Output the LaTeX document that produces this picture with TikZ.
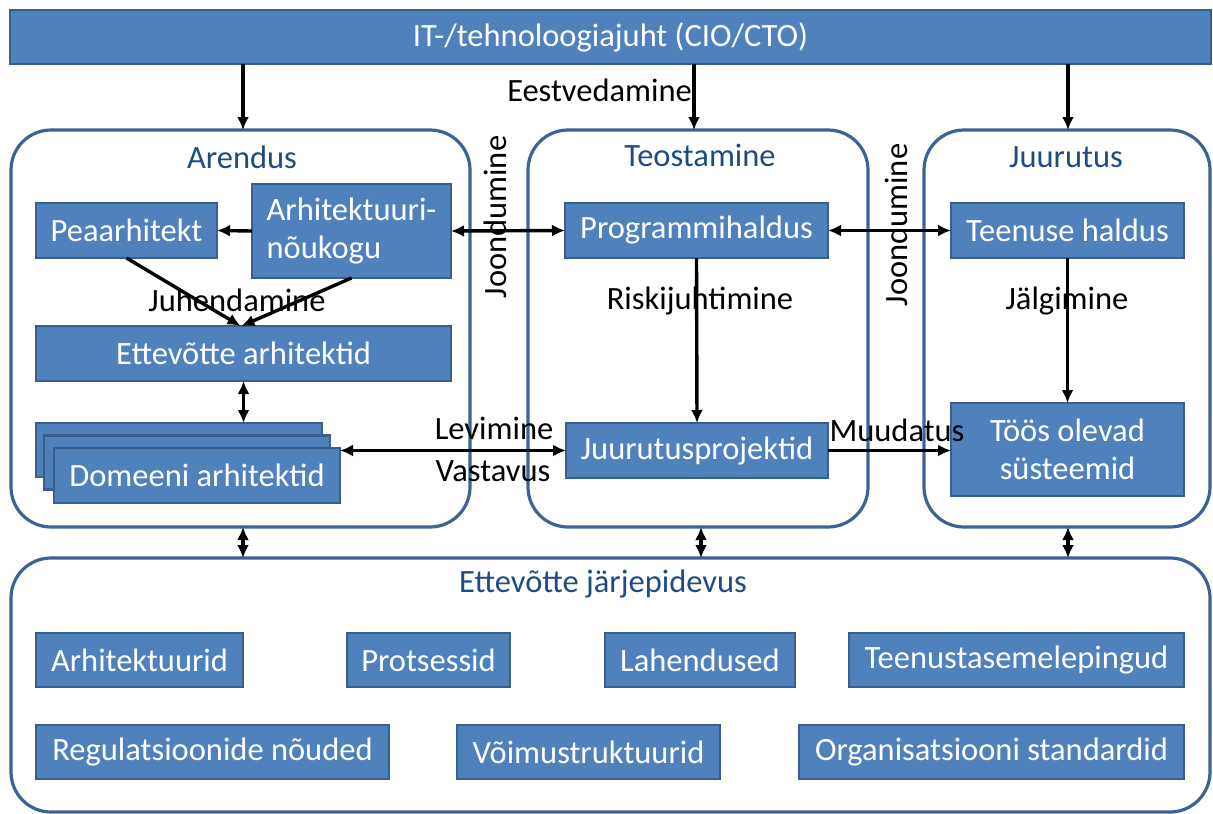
\documentclass[tikz,border=0pt]{standalone}
\usepackage{fontspec}
\setmainfont{Carlito}
\usetikzlibrary{arrows.meta}
\definecolor{boxfill}{HTML}{4F81BD}
\definecolor{boxline}{HTML}{3A5F8F}
\definecolor{frameline}{HTML}{3D6296}
\definecolor{titletext}{HTML}{1F4A82}
\begin{document}
\begin{tikzpicture}[x=1pt,y=-1pt,
  font=\fontsize{32.5}{38}\selectfont,
  box/.style={draw=boxline,line width=2.8pt,fill=boxfill,text=white,
    inner sep=0pt,outer sep=0pt,align=center},
  frame/.style={draw=frameline,line width=3.2pt,rounded corners=40pt,
    inner sep=0pt,outer sep=0pt},
  ftitle/.style={text=titletext,inner sep=0pt},
  lbl/.style={text=black,inner sep=0pt},
  arr/.style={line width=3.4pt,-{Latex[length=13pt,width=12pt]}},
  darr/.style={line width=3.4pt,{Latex[length=13pt,width=12pt]}-{Latex[length=13pt,width=12pt]}}]
\useasboundingbox (0,0) rectangle (1213,814);

% leadership bar
\node[box,minimum width=1201,minimum height=54] (top) at (610.5,37) {IT-/tehnoloogiajuht (CIO/CTO)};

% three process areas and the continuity area
\node[frame,minimum width=459,minimum height=397] (aren) at (240.5,328.5) {};
\node[frame,minimum width=340,minimum height=397] (teo) at (698,328.5) {};
\node[frame,minimum width=286,minimum height=397] (juur) at (1067,328.5) {};
\node[frame,minimum width=1199,minimum height=254] (bot) at (610.5,685) {};

\node[ftitle] (arenT) at (242,157) {Arendus};
\node[ftitle] (teoT) at (700,155) {Teostamine};
\node[ftitle] (juurT) at (1066,157) {Juurutus};
\node[ftitle] (botT) at (603,584) {Ettevõtte järjepidevus};

% Arendus
\node[box,minimum width=181,minimum height=55] (pea) at (126.5,230.5) {Peaarhitekt};
\node[box,minimum width=199,minimum height=94,align=left] (ank) at (351.5,231) {Arhitektuuri-\\nõukogu};
\node[box,minimum width=415,minimum height=55] (eta) at (243.5,353.5) {Ettevõtte arhitektid};
\node[box,minimum width=286,minimum height=54] (dom3) at (179,450) {};
\node[box,minimum width=286,minimum height=54] (dom2) at (187,462.5) {};
\node[box,minimum width=286,minimum height=55] (dom) at (197,475.5) {Domeeni arhitektid};

% Teostamine
\node[box,minimum width=263,minimum height=55] (prog) at (696.5,230.5) {Programmihaldus};
\node[box,minimum width=262,minimum height=55] (juu) at (697,450.5) {Juurutusprojektid};

% Juurutus
\node[box,minimum width=233,minimum height=55] (ten) at (1067.5,230.5) {Teenuse haldus};
\node[box,minimum width=233,minimum height=93] (too) at (1067.5,449.5) {Töös olevad\\süsteemid};

% continuity items
\node[box,minimum width=207,minimum height=54] (arh) at (139.5,660) {Arhitektuurid};
\node[box,minimum width=163,minimum height=54] (pro) at (428.5,660) {Protsessid};
\node[box,minimum width=190,minimum height=54] (lah) at (700,660) {Lahendused};
\node[box,minimum width=335,minimum height=54] (tas) at (1016.5,660) {Teenustasemelepingud};
\node[box,minimum width=353,minimum height=54] (reg) at (212.5,752) {Regulatsioonide nõuded};
\node[box,minimum width=263,minimum height=54] (voi) at (588.5,752) {Võimustruktuurid};
\node[box,minimum width=385,minimum height=54] (org) at (991.5,752) {Organisatsiooni standardid};

% leadership arrows
\draw[arr] (top.south -| aren.north) ++(2.5,0) coordinate (a1) -- (a1 |- aren.north);
\draw[arr] (top.south -| teo.north) ++(-4,0) coordinate (a2) -- (a2 |- teo.north);
\draw[arr] (top.south -| juur.north) ++(1,0) coordinate (a3) -- (a3 |- juur.north);
\node[lbl,anchor=east] (eest) at (692,90) {Eestvedamine};

% links to continuity
\draw[darr] (aren.south) ++(2.5,0) coordinate (b1) -- (b1 |- bot.north);
\draw[darr] (teo.south) ++(3,0) coordinate (b2) -- (b2 |- bot.north);
\draw[darr] (juur.south) ++(1,0) coordinate (b3) -- (b3 |- bot.north);

% inside Arendus
\draw[arr] (ank.west) -- (pea.east);
\draw[arr] (pea.south) -- ([xshift=-3pt]eta.north);
\draw[arr] (ank.south) -- ([xshift=-2pt]eta.north);
\node[lbl] (juh) at (237,300) {Juhendamine};
\draw[darr] (eta.south) -- (eta.south |- dom3.north);

% alignment between areas
\draw[darr] (ank.east) -- (prog.west);
\draw[darr] (prog.east) -- (ten.west);
\node[lbl,rotate=90] (joo1) at (495,217) {Joondumine};
\node[lbl,rotate=90] (joo2) at (896,225) {Joondumine};

% inside Teostamine and Juurutus
\draw[arr] (prog.south) -- (juu.north);
\node[lbl] (risk) at (700,301) {Riskijuhtimine};
\draw[arr] (ten.south) -- (too.north);
\node[lbl] (jal) at (1067,301) {Jälgimine};

% propagation and change
\draw[darr] (dom.east |- juu.west) -- (juu.west);
\node[lbl] (lev) at (494,428) {Levimine};
\node[lbl] (vas) at (493,471) {Vastavus};
\draw[arr] (juu.east) -- (juu.east -| too.west);
\node[lbl] (muu) at (897,430) {Muudatus};
\end{tikzpicture}
\end{document}
